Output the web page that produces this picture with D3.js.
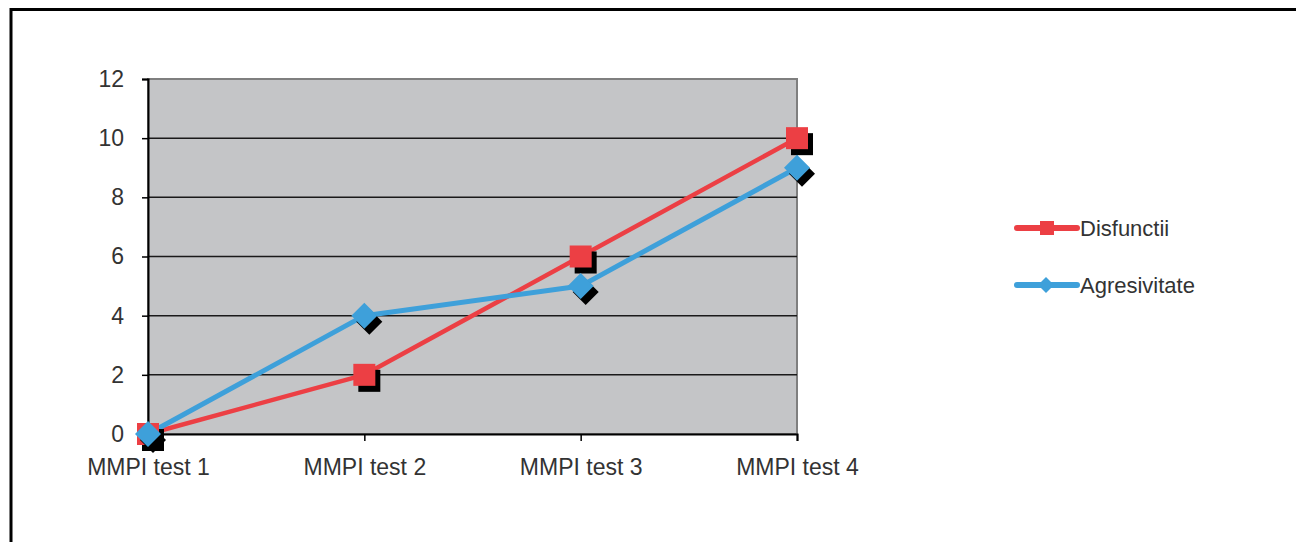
<!DOCTYPE html>
<html>
<head>
<meta charset="utf-8">
<script src="https://cdn.jsdelivr.net/npm/d3@7"></script>
<style>
  body { margin: 0; background: #fff; }
  svg { display: block; }
  text { font-family: "Liberation Sans", Arial, sans-serif; fill: #333; }
</style>
</head>
<body>
<svg width="1296" height="542"></svg>
<script>
const categories = ["MMPI test 1", "MMPI test 2", "MMPI test 3", "MMPI test 4"];
const disfunctii = [0, 2, 6, 10];
const agresivitate = [0, 4, 5, 9];
const yTicks = [0, 2, 4, 6, 8, 10, 12];

const series = [
  { name: "Disfunctii", values: disfunctii, color: "#ec3f44", shape: "square", width: 4.5 },
  { name: "Agresivitate", values: agresivitate, color: "#3ea0da", shape: "diamond", width: 5 }
];

const svg = d3.select("svg");

// outer frame (only top and left visible)
svg.append("path")
  .attr("d", "M11,1400 L11,9.5 L1400,9.5")
  .attr("fill", "none").attr("stroke", "#000").attr("stroke-width", 3);

const plotL = 148, plotR = 797, plotT = 79, plotB = 434;

const x = d3.scalePoint().domain(categories).range([plotL, plotR]);
const y = d3.scaleLinear().domain([0, 12]).range([plotB, plotT]);

// plot area
svg.append("rect")
  .attr("x", plotL).attr("y", plotT)
  .attr("width", plotR - plotL).attr("height", plotB - plotT)
  .attr("fill", "#c4c5c7").attr("stroke", "#7f7f7f").attr("stroke-width", 2);

// gridlines
svg.append("g").selectAll("line")
  .data(yTicks.filter(d => d > 0 && d < 12))
  .join("line")
  .attr("x1", plotL).attr("x2", plotR)
  .attr("y1", d => y(d)).attr("y2", d => y(d))
  .attr("stroke", "#1a1a1a").attr("stroke-width", 1.5);

// y axis
const yAxis = svg.append("g")
  .attr("transform", `translate(${plotL},0)`)
  .call(d3.axisLeft(y).tickValues(yTicks).tickSize(6).tickPadding(18));
yAxis.select(".domain").attr("stroke", "#000").attr("stroke-width", 2);
yAxis.selectAll(".tick line").attr("stroke", "#000").attr("stroke-width", 1.5);
yAxis.selectAll(".tick text")
  .attr("font-size", 23).attr("fill", "#333")
  .attr("font-family", "Liberation Sans, Arial, sans-serif");

// x axis
const xAxis = svg.append("g")
  .attr("transform", `translate(0,${plotB})`)
  .call(d3.axisBottom(x).tickSize(7).tickPadding(18));
xAxis.select(".domain").attr("stroke", "#000").attr("stroke-width", 2);
xAxis.selectAll(".tick line").attr("stroke", "#000").attr("stroke-width", 1.5);
xAxis.selectAll(".tick text")
  .attr("font-size", 23).attr("fill", "#333")
  .attr("font-family", "Liberation Sans, Arial, sans-serif");

const line = d3.line().x((d, i) => x(categories[i])).y(d => y(d));

function marker(g, shape, color, cx, cy, shadow) {
  if (shape === "square") {
    const s = 22;
    if (shadow) g.append("rect").attr("x", cx - s / 2 + 5).attr("y", cy - s / 2 + 6)
      .attr("width", s).attr("height", s).attr("fill", "#000");
    g.append("rect").attr("x", cx - s / 2).attr("y", cy - s / 2)
      .attr("width", s).attr("height", s).attr("fill", color);
  } else {
    const r = 13;
    const pts = (ox, oy) => [[cx + ox, cy - r + oy], [cx + r + ox, cy + oy], [cx + ox, cy + r + oy], [cx - r + ox, cy + oy]].join(" ");
    if (shadow) g.append("polygon").attr("points", pts(5, 6)).attr("fill", "#000");
    g.append("polygon").attr("points", pts(0, 0)).attr("fill", color);
  }
}

series.forEach(s => {
  svg.append("path").datum(s.values)
    .attr("d", line).attr("fill", "none")
    .attr("stroke", s.color).attr("stroke-width", s.width)
    .attr("stroke-linejoin", "round");
});
series.forEach(s => {
  const g = svg.append("g");
  s.values.forEach((v, i) => marker(g, s.shape, s.color, x(categories[i]), y(v), true));
});

// legend
const legend = svg.append("g");
series.forEach((s, i) => {
  const ly = 228 + i * 57;
  legend.append("line")
    .attr("x1", 1017).attr("x2", 1077).attr("y1", ly).attr("y2", ly)
    .attr("stroke", s.color).attr("stroke-width", 6).attr("stroke-linecap", "round");
  if (s.shape === "square") {
    legend.append("rect").attr("x", 1040).attr("y", ly - 7).attr("width", 14).attr("height", 14).attr("fill", s.color);
  } else {
    legend.append("polygon")
      .attr("points", [[1046, ly - 8], [1054, ly], [1046, ly + 8], [1038, ly]].join(" "))
      .attr("fill", s.color);
  }
  legend.append("text")
    .attr("x", 1080).attr("y", ly + 8)
    .attr("font-size", 22)
    .text(s.name);
});
</script>
</body>
</html>
